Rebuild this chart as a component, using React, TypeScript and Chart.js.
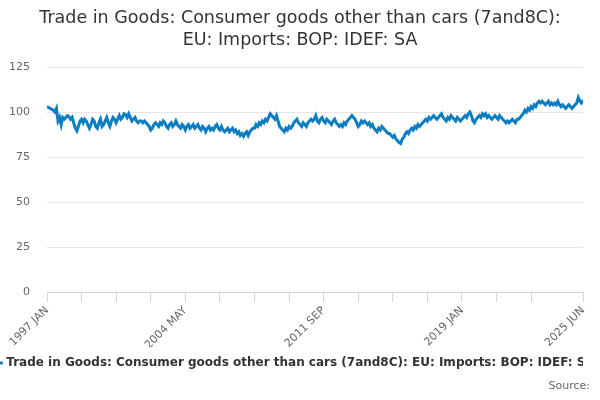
import React, { useEffect, useRef } from 'react';
import { Chart, registerables } from 'chart.js';
Chart.register(...registerables);

// monthly index values, 1997 JAN .. 2025 JUN
const values1997to2005 = [
  103, 102.5, 102, 101.5, 101, 100, 102, 95, 97, 93, 97, 96,
  97, 98, 97.5, 96, 97, 94, 91, 89.5, 92, 95, 96, 94,
  96, 95, 93, 91, 93, 96, 95, 92, 91, 94, 96, 92,
  93, 95, 97, 94, 92, 95, 97, 96, 94, 96, 98, 96,
  97, 99, 98.5, 97, 99, 97, 95, 96, 97, 95, 94, 95,
  95, 94, 95, 94, 93, 92, 90, 91, 93, 94, 93, 92,
  94, 93, 95, 94, 92, 91, 93, 94, 92, 93, 95, 93,
  92, 91, 93, 92, 90, 92, 93, 91, 92, 93, 91, 92,
  93, 91, 90, 92, 91, 89, 91, 92, 90, 91, 90, 92,
];
const values2006to2014 = [
  93, 91, 90, 92, 90, 89, 90, 91, 89, 90, 91, 89,
  90, 88, 89, 87, 88, 86.5, 88, 89, 87, 89, 90, 91,
  91, 93, 92, 94, 93, 95, 94, 96, 95, 97, 99, 98,
  97, 96, 98, 95, 92, 91, 90, 89, 91, 90, 92, 91,
  92, 94, 95, 96, 94, 93, 92, 94, 93, 92, 94, 95,
  96, 95, 96, 98, 95, 94, 96, 97, 95, 94, 96, 95,
  94, 93, 95, 96, 94, 93, 92, 93, 92, 94, 93, 95,
  96, 97, 98, 97, 96, 94, 92, 93, 95, 94, 95, 94,
  93, 94, 92, 93, 91, 90, 89, 91, 90, 92, 91, 90,
];
const values2015to2025 = [
  89, 88, 88, 87, 86, 87, 85, 84, 83, 82.5, 85, 86,
  88, 89, 88, 90, 91, 90, 92, 91, 93, 92, 93, 94,
  95, 96, 95, 97, 96, 97, 98, 97, 96, 97, 98, 99,
  97, 96, 95, 97, 96, 98, 97, 96, 95, 97, 96, 95,
  96, 97, 98, 97, 99, 100, 98, 95, 94, 96, 97, 98,
  97, 99, 98, 99, 97, 98, 97, 96, 97, 98, 97, 96,
  98, 97, 96, 95, 94, 95, 94, 95, 96, 95, 94, 96,
  96, 97, 98, 99, 101, 100, 102, 101, 103, 102, 104, 103,
  105, 106, 105, 106, 105, 104, 105, 106, 104, 105, 104, 105,
  104, 106, 104, 103, 104, 103, 102, 103, 104, 103, 102, 103,
  104, 105, 108, 106, 105, 106.5,
];
const values = [...values1997to2005, ...values2006to2014, ...values2015to2025];

const tickLabels: Record<number, string> = {
  0: '1997 JAN',
  88: '2004 MAY',
  176: '2011 SEP',
  264: '2019 JAN',
  341: '2025 JUN',
};
const tickPositions = [0, 22, 44, 66, 88, 110, 132, 154, 176, 198, 220, 242, 264, 286, 308, 341];

const titleLines = ['Trade in Goods: Consumer goods other than cars (7and8C):', 'EU: Imports: BOP: IDEF: SA'];
const seriesName = 'Trade in Goods: Consumer goods other than cars (7and8C): EU: Imports: BOP: IDEF: SA';
const FONT = '"DejaVu Sans", sans-serif';

// title centred on the whole page and the source note, drawn by hand
const textPlugin = {
  id: 'pageText',
  afterDraw(chart: Chart) {
    const ctx = chart.ctx;
    ctx.save();
    ctx.textBaseline = 'middle';
    ctx.textAlign = 'center';
    ctx.fillStyle = '#333333';
    ctx.font = `17.5px ${FONT}`;
    ctx.fillText(titleLines[0], 300, 18);
    ctx.fillText(titleLines[1], 300, 40);
    ctx.font = `11px ${FONT}`;
    ctx.fillStyle = '#666666';
    ctx.textAlign = 'right';
    ctx.fillText('Source:', 590, 386);
    ctx.restore();
  },
};

const App: React.FC = () => {
  const canvasRef = useRef<HTMLCanvasElement>(null);
  const chartRef = useRef<Chart | null>(null);

  useEffect(() => {
    document.body.style.margin = '0';
    if (!canvasRef.current) return;
    const ctx = canvasRef.current.getContext('2d');
    if (!ctx) return;

    if (chartRef.current) chartRef.current.destroy();

    chartRef.current = new Chart(ctx, {
      type: 'line',
      data: {
        datasets: [
          {
            label: seriesName,
            data: values.map((v, i) => ({ x: i, y: v })),
            borderColor: '#0b7dc3',
            backgroundColor: '#0b7dc3',
            borderWidth: 3,
            pointRadius: 0,
            tension: 0,
          },
        ],
      },
      options: {
        animation: false,
        responsive: false,
        layout: { padding: { left: 0, right: 17, top: 67, bottom: 21 } },
        plugins: {
          title: { display: false },
          legend: {
            position: 'bottom',
            labels: {
              color: '#333333',
              font: { family: FONT, size: 12, weight: 'bold' },
              usePointStyle: true,
              pointStyle: 'line',
              boxWidth: 16,
            },
          },
          tooltip: { enabled: false },
        },
        scales: {
          x: {
            type: 'linear',
            min: 0,
            max: 341,
            afterBuildTicks: (scale: any) => {
              scale.ticks = tickPositions.map((v) => ({ value: v }));
            },
            afterFit: (scale: any) => {
              scale.height = 55;
            },
            ticks: {
              autoSkip: false,
              minRotation: 45,
              maxRotation: 45,
              color: '#666666',
              font: { family: FONT, size: 11 },
              padding: 2,
              callback: (v: any) => tickLabels[Number(v)] ?? '',
            },
            grid: {
              drawOnChartArea: false,
              drawTicks: true,
              tickLength: 10,
              color: '#ccd6eb',
            },
            border: { color: '#ccd6eb' },
          },
          y: {
            min: 0,
            max: 125,
            afterFit: (scale: any) => {
              scale.width = 47;
            },
            ticks: {
              stepSize: 25,
              color: '#666666',
              font: { family: FONT, size: 11 },
              padding: 17,
            },
            grid: { color: '#e6e6e6', drawTicks: false },
            border: { display: false },
          },
        },
      },
      plugins: [textPlugin],
    });

    return () => {
      if (chartRef.current) {
        chartRef.current.destroy();
        chartRef.current = null;
      }
    };
  }, []);

  return (
    <div style={{ width: 600, height: 400 }}>
      <canvas ref={canvasRef} width={600} height={400}></canvas>
    </div>
  );
};

export default App;
